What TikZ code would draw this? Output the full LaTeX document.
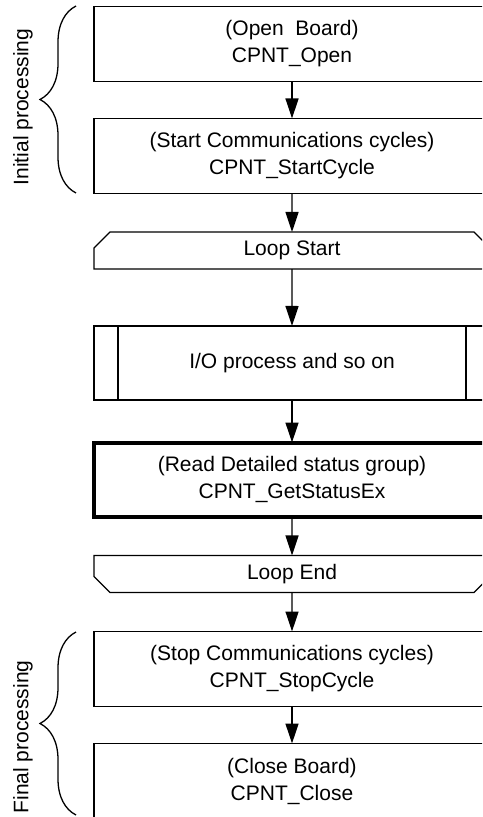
\documentclass[tikz,border=0pt]{standalone}
\usepackage{fontspec}
\setmainfont{Liberation Sans}
\usetikzlibrary{arrows.meta,shapes.misc,decorations.pathreplacing}

\begin{document}
\begin{tikzpicture}[x=0.5pt,y=-0.5pt,line width=0.65pt,>={Triangle[length=10pt,width=6.5pt]},
  font=\fontsize{10.5}{13.5}\selectfont,
  box/.style={draw,minimum width=198pt,minimum height=37.5pt,inner sep=0pt,outer sep=0pt,align=center},
  loopbox/.style={box,chamfered rectangle,chamfered rectangle xsep=4pt,chamfered rectangle ysep=4pt,minimum height=18.5pt},
  grp/.style={decorate,decoration={brace,amplitude=18pt}}]
  \useasboundingbox (0,0) rectangle (482,817);
  \clip (0,0) rectangle (482,817);
  % initial processing
  \node[box] (open) at (292,44) {(Open\ \ Board)\\CPNT\_Open};
  \node[box] (start) at (292,156) {(Start Communications cycles)\\CPNT\_StartCycle};
  % loop
  \node[loopbox,chamfered rectangle corners={north west,north east}] (lstart) at (292,250.5) {Loop Start};
  \node[box,minimum height=37pt] (io) at (292,363) {I/O process and so on};
  \draw ([xshift=12pt]io.north west) -- ([xshift=12pt]io.south west);
  \draw ([xshift=-12pt]io.north east) -- ([xshift=-12pt]io.south east);
  \node[box,line width=2pt,minimum height=37pt] (getst) at (292,479.5) {(Read Detailed status group)\\CPNT\_GetStatusEx};
  \node[loopbox,chamfered rectangle corners={south west,south east}] (lend) at (292,574) {Loop End};
  % final processing
  \node[box] (stop) at (292,669) {(Stop Communications cycles)\\CPNT\_StopCycle};
  \node[box] (close) at (292,781) {(Close Board)\\CPNT\_Close};
  % flujo
  \draw[->] (open) -- (start);
  \draw[->] (start) -- (lstart);
  \draw[->] (lstart) -- (io);
  \draw[->] (io) -- (getst);
  \draw[->] (getst) -- (lend);
  \draw[->] (lend) -- (stop);
  \draw[->] (stop) -- (close);
  % llaves
  \draw[grp] (76,193) -- (76,6);
  \node[rotate=90] (initlbl) at (23,107) {Initial processing};
  \draw[grp] (76,815) -- (76,632);
  \node[rotate=90] (finlbl) at (23,737) {Final processing};
\end{tikzpicture}
\end{document}
